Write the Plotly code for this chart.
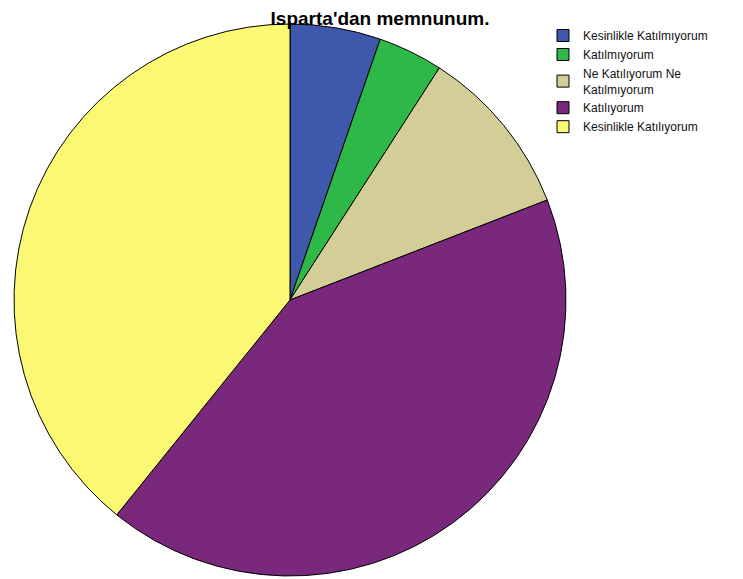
import plotly.graph_objects as go

labels = ["Kesinlikle Katılmıyorum", "Katılmıyorum", "Ne Katılıyorum Ne<br>Katılmıyorum",
          "Katılıyorum", "Kesinlikle Katılıyorum"]
values = [5.3, 3.8, 10.0, 41.7, 39.2]
colors = ["#3E58AC", "#2EB848", "#D3CE97", "#7A287B", "#FBF873"]

W, H = 743, 579
fig = go.Figure(go.Pie(
    labels=labels, values=values, sort=False, direction="clockwise", rotation=0,
    marker=dict(colors=colors, line=dict(color="black", width=1)),
    textinfo="none", hoverinfo="label+percent",
    domain=dict(x=[6/W, 558/W], y=[11/H, 563/H]),
))
fig.update_layout(
    width=W, height=H, margin=dict(l=0, r=0, t=0, b=0),
    paper_bgcolor="white", plot_bgcolor="white",
    title=dict(text="<b>Isparta'dan memnunum.</b>", x=372/W, xanchor="center",
               y=1 - 4/H, yanchor="top", pad=dict(t=0, b=0, l=0, r=0),
               font=dict(family="Liberation Sans, Arial", size=19, color="black")),
    legend=dict(x=535/W, xanchor="left", y=1 - 13/H, yanchor="top",
                font=dict(family="Liberation Sans, Arial", size=12, color="#111"),
                itemwidth=30, tracegroupgap=0, bgcolor="rgba(0,0,0,0)"),
)
fig.write_html("out.html")
